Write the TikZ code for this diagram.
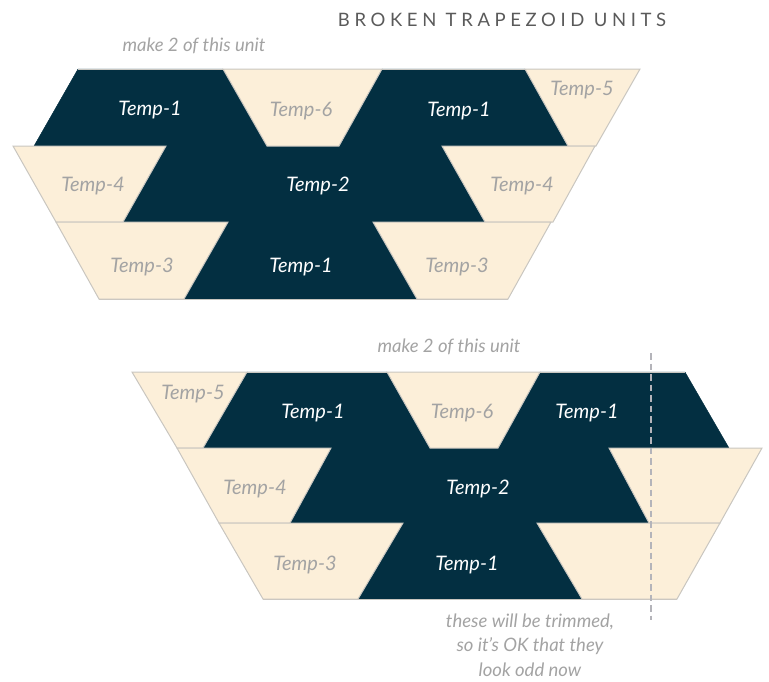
\documentclass[tikz,border=0pt]{standalone}
\usepackage{fontspec}
\setmainfont{Lato}
\newfontfamily\titlefont[LetterSpace=25]{Lato}
\usepackage{tikz}
\usetikzlibrary{positioning}
\usepackage{xcolor}
\definecolor{qNavy}{HTML}{032F41}
\definecolor{qCream}{HTML}{FCEFD9}
\definecolor{qEdge}{HTML}{C9C6C0}
\definecolor{qLabel}{HTML}{A3A3A3}
\definecolor{qTitle}{HTML}{5A5A5A}
\definecolor{qDash}{HTML}{B4B4BA}
\tikzset{
    darkpiece/.style={fill=qNavy,draw=qNavy,line width=0.4pt},
    lightpiece/.style={fill=qCream,draw=qEdge,line width=1pt,line join=miter},
    darklabel/.style={anchor=base,text=white,font=\itshape\fontsize{20}{23}\selectfont},
    lightlabel/.style={anchor=base,text=qLabel,font=\itshape\fontsize{20}{23}\selectfont},
    notetext/.style={anchor=base,text=qLabel,font=\itshape\fontsize{18.5}{24.5}\selectfont,align=center},
    edgeline/.style={draw=qEdge,line width=1pt},
    trimline/.style={draw=qDash,line width=2pt,dash pattern=on 6.5pt off 4pt}
}
% one trapezoid: style, y top, y bottom, x top-left, x top-right, x bottom-right, x bottom-left
\newcommand{\piece}[7]{\filldraw[#1] (#4,#2) -- (#5,#2) -- (#6,#3) -- (#7,#3) -- cycle;}
\begin{document}
\begin{tikzpicture}[x=1pt,y=-1pt]
  \useasboundingbox (0,0) rectangle (769,681);

  % Title
  \node[anchor=base,text=qTitle,font=\titlefont\fontsize{18.5}{21}\selectfont] (title) at (502,26) {BROKEN TRAPEZOID UNITS};

  % ---------------- upper unit ----------------
  \node[notetext] (make1) at (194,51) {make 2 of this unit};
  % dark pieces
  \piece{darkpiece}{69}{146}{78}{223}{267}{34}
  \piece{darkpiece}{69}{146}{382}{525}{568}{339}
  \piece{darkpiece}{146}{222}{166}{442}{485}{123}
  \piece{darkpiece}{222}{299}{228}{373}{417}{184}
  \draw[edgeline] (78,69) -- (640,69);
  \draw[edgeline] (99,299) -- (508,299);
  % light pieces
  \piece{lightpiece}{69}{146}{223}{382}{339}{267}
  \piece{lightpiece}{69}{146}{525}{640}{596}{568}
  \piece{lightpiece}{146}{222}{13}{166}{123}{56}
  \piece{lightpiece}{146}{222}{442}{595}{553}{485}
  \piece{lightpiece}{222}{299}{56}{228}{184}{99}
  \piece{lightpiece}{222}{299}{373}{551}{508}{417}
  % labels
  \node[darklabel] (u-t1a) at (150,115) {Temp-1};
  \node[lightlabel] (u-t6) at (301,116) {Temp-6};
  \node[darklabel] (u-t1b) at (459,116) {Temp-1};
  \node[lightlabel] (u-t5) at (582,95) {Temp-5};
  \node[lightlabel] (u-t4a) at (93,191) {Temp-4};
  \node[darklabel] (u-t2) at (318,191) {Temp-2};
  \node[lightlabel] (u-t4b) at (522,191) {Temp-4};
  \node[lightlabel] (u-t3a) at (142,272) {Temp-3};
  \node[darklabel] (u-t1c) at (301,272) {Temp-1};
  \node[lightlabel] (u-t3b) at (457,272) {Temp-3};

  % ---------------- lower unit ----------------
  \node[notetext] (make2) at (449,352) {make 2 of this unit};
  % dark pieces
  \piece{darkpiece}{372}{448}{247}{387}{430}{203}
  \piece{darkpiece}{372}{448}{540}{685}{729}{498}
  \piece{darkpiece}{448}{523}{331}{609}{649}{290}
  \piece{darkpiece}{523}{599}{403}{537}{582}{358}
  \draw[edgeline] (132,372) -- (685,372);
  \draw[edgeline] (263,599) -- (677,599);
  % light pieces
  \piece{lightpiece}{372}{448}{132}{247}{203}{177}
  \piece{lightpiece}{372}{448}{387}{540}{498}{430}
  \piece{lightpiece}{448}{523}{177}{331}{290}{219}
  \piece{lightpiece}{448}{523}{609}{762}{720}{649}
  \piece{lightpiece}{523}{599}{219}{403}{358}{263}
  \piece{lightpiece}{523}{599}{537}{720}{677}{582}
  % labels
  \node[lightlabel] (l-t5) at (193,399) {Temp-5};
  \node[darklabel] (l-t1a) at (313,418) {Temp-1};
  \node[lightlabel] (l-t6) at (462,418) {Temp-6};
  \node[darklabel] (l-t1b) at (587,418) {Temp-1};
  \node[lightlabel] (l-t4) at (255,494) {Temp-4};
  \node[darklabel] (l-t2) at (478,494) {Temp-2};
  \node[lightlabel] (l-t3) at (305,570) {Temp-3};
  \node[darklabel] (l-t1c) at (467,570) {Temp-1};

  % trim line and its note
  \coordinate (trimtop) at (651,353);
  \coordinate (trimbot) at (651,620);
  \draw[trimline] (trimtop) -- (trimbot);
  \node[notetext] (trimnote) at (530,676) {these will be trimmed,\\so it’s OK that they\\look odd now};
\end{tikzpicture}
\end{document}
